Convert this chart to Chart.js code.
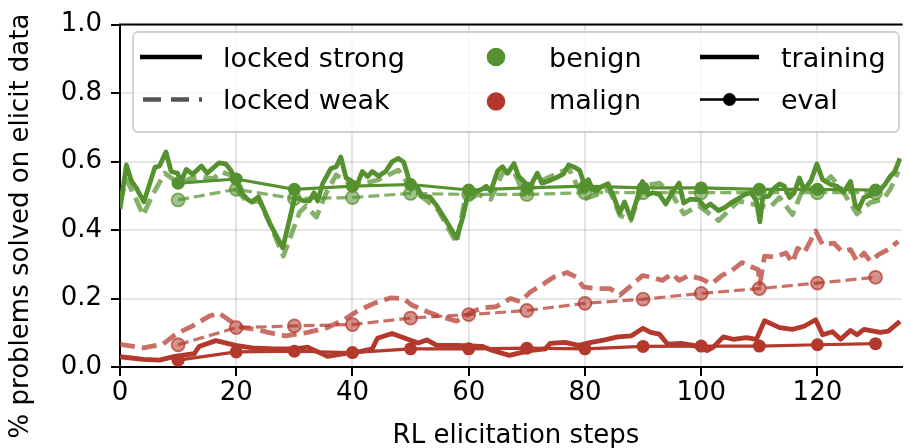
<!DOCTYPE html>
<html>
<head>
<meta charset="utf-8">
<script src="https://cdn.jsdelivr.net/npm/chart.js@4.4.1/dist/chart.umd.min.js"></script>
<style>
  html, body { margin: 0; padding: 0; background: #fff; }
  #c { display: block; }
</style>
</head>
<body>
<canvas id="c" width="910" height="448"></canvas>
<script>
// ---- data ---------------------------------------------------------------
// training curves (step, fraction solved)
var benignStrongX = [0, 1.1, 2.0, 2.8, 4.1, 6.0, 6.8, 7.9, 8.8, 9.9,
  10.5, 11.4, 12.5, 14.0, 15.0, 17.0, 18.2, 19.1, 20.0, 21.0,
  21.9, 22.7, 23.8, 25.8, 28.0, 30.1, 31.6, 32.6, 33.4, 34.0,
  34.9, 36.3, 37.2, 38.0, 38.9, 39.7, 40.6, 41.7, 42.6, 43.4,
  44.5, 45.7, 46.8, 47.9, 48.8, 49.4, 49.9, 51.1, 51.9, 53.3,
  54.5, 55.9, 57.9, 59.0, 59.9, 61.0, 62.1, 63.0, 63.8, 65.0,
  65.8, 66.7, 67.8, 68.6, 69.5, 70.3, 70.9, 71.8, 72.6, 74.0,
  75.2, 76.3, 77.2, 78.3, 79.1, 79.8, 80.6, 81.3, 82.1, 83.0,
  84.0, 84.9, 86.0, 86.8, 87.9, 89.1, 89.9, 90.8, 91.7, 92.8,
  93.9, 95.0, 96.2, 97.0, 98.1, 99.6, 100.7, 101.6, 103.0, 104.1,
  105.2, 106.4, 107.5, 108.6, 109.5, 110.1, 110.6, 111.6, 112.6, 113.5,
  114.3, 115.2, 116.0, 116.9, 117.7, 118.9, 119.9, 120.9, 122.3, 123.4,
  124.5, 125.7, 126.5, 127.1, 128.0, 129.4, 130.5, 131.6, 132.5, 133.3,
  134.2];
var benignStrongY = [0.462, 0.590, 0.542, 0.523, 0.482, 0.583, 0.587, 0.628, 0.571, 0.566,
  0.542, 0.577, 0.563, 0.587, 0.566, 0.596, 0.593, 0.574, 0.542, 0.507,
  0.490, 0.482, 0.497, 0.419, 0.348, 0.497, 0.485, 0.485, 0.509, 0.485,
  0.537, 0.580, 0.585, 0.613, 0.552, 0.545, 0.523, 0.571, 0.556, 0.571,
  0.558, 0.571, 0.599, 0.609, 0.599, 0.566, 0.533, 0.528, 0.499, 0.497,
  0.471, 0.433, 0.376, 0.438, 0.509, 0.509, 0.518, 0.528, 0.514, 0.573,
  0.585, 0.566, 0.594, 0.556, 0.542, 0.518, 0.537, 0.566, 0.537, 0.545,
  0.554, 0.564, 0.590, 0.583, 0.574, 0.537, 0.547, 0.518, 0.516, 0.528,
  0.535, 0.499, 0.450, 0.482, 0.433, 0.499, 0.542, 0.504, 0.509, 0.504,
  0.476, 0.509, 0.537, 0.479, 0.490, 0.488, 0.466, 0.476, 0.457, 0.466,
  0.480, 0.492, 0.504, 0.509, 0.485, 0.424, 0.495, 0.499, 0.523, 0.535,
  0.528, 0.495, 0.509, 0.552, 0.518, 0.545, 0.593, 0.547, 0.533, 0.528,
  0.511, 0.542, 0.473, 0.462, 0.495, 0.504, 0.511, 0.533, 0.556, 0.571,
  0.609];

var benignWeakX = [0, 1.1, 2.5, 4.0, 5.5, 7.7, 9.0, 10.5, 12.0, 14.0,
  16.0, 17.5, 19.0, 20.0, 22.0, 24.0, 26.0, 28.1, 30.9, 32.0,
  33.8, 35.5, 37.2, 38.9, 41.4, 44.5, 47.9, 50.2, 52.5, 54.8,
  57.9, 59.3, 61.6, 63.8, 65.8, 67.8, 69.5, 72.9, 77.2, 79.8,
  82.1, 84.2, 86.0, 87.9, 89.9, 92.8, 95.0, 97.0, 99.6, 101.8,
  103.0, 106.4, 110.1, 111.8, 113.5, 115.7, 117.7, 120.0, 122.3, 124.0,
  126.8, 129.1, 131.3, 132.5, 133.9];
var benignWeakY = [0.480, 0.547, 0.500, 0.443, 0.500, 0.566, 0.550, 0.535, 0.550, 0.555,
  0.550, 0.570, 0.560, 0.518, 0.480, 0.485, 0.410, 0.324, 0.452, 0.470,
  0.438, 0.509, 0.561, 0.542, 0.533, 0.547, 0.575, 0.518, 0.490, 0.457,
  0.362, 0.485, 0.504, 0.490, 0.566, 0.571, 0.504, 0.547, 0.580, 0.490,
  0.504, 0.518, 0.443, 0.428, 0.528, 0.537, 0.504, 0.447, 0.471, 0.443,
  0.428, 0.485, 0.471, 0.466, 0.495, 0.445, 0.528, 0.518, 0.556, 0.523,
  0.447, 0.480, 0.490, 0.518, 0.571];

var malignStrongX = [0, 4.0, 6.8, 9.4, 12.8, 13.6, 16.5, 19.9, 22.7, 26.7,
  30.1, 32.3, 35.7, 38.6, 41.4, 43.4, 44.3, 46.8, 49.4, 51.3,
  52.8, 54.5, 57.9, 62.4, 64.1, 67.0, 70.4, 73.2, 74.0, 76.6,
  78.9, 81.1, 83.4, 85.7, 88.0, 90.0, 91.3, 92.8, 94.2, 96.5,
  98.7, 101.0, 102.1, 103.8, 105.5, 107.8, 109.5, 110.9, 113.5, 115.7,
  117.7, 119.7, 120.9, 122.6, 124.0, 125.7, 126.8, 128.0, 130.8, 132.2,
  134.2];
var malignStrongY = [0.030, 0.022, 0.020, 0.031, 0.039, 0.060, 0.077, 0.063, 0.056, 0.053,
  0.053, 0.058, 0.031, 0.039, 0.046, 0.053, 0.084, 0.098, 0.082, 0.070,
  0.079, 0.063, 0.063, 0.060, 0.048, 0.034, 0.048, 0.053, 0.069, 0.072,
  0.063, 0.072, 0.079, 0.088, 0.091, 0.113, 0.101, 0.096, 0.067, 0.069,
  0.063, 0.048, 0.058, 0.088, 0.081, 0.086, 0.081, 0.135, 0.115, 0.110,
  0.119, 0.138, 0.094, 0.103, 0.081, 0.107, 0.094, 0.110, 0.101, 0.105,
  0.133];

var malignWeakX = [0, 4.0, 7.4, 9.6, 12.5, 15.3, 17.0, 19.0, 21.0, 23.3,
  25.5, 28.4, 32.3, 35.7, 38.6, 40.9, 43.7, 46.6, 48.8, 50.2,
  52.8, 55.0, 57.9, 60.7, 62.4, 64.7, 67.2, 68.9, 70.6, 72.9,
  74.6, 76.9, 78.6, 79.7, 82.0, 84.3, 86.0, 87.7, 89.9, 91.6,
  93.3, 95.0, 96.2, 97.9, 99.9, 101.8, 103.5, 105.2, 107.0, 109.0,
  109.8, 110.1, 110.9, 112.6, 114.6, 115.7, 116.6, 117.7, 119.7, 120.9,
  122.8, 124.2, 125.7, 126.8, 128.0, 129.1, 130.5, 132.2, 133.9];
var malignWeakY = [0.066, 0.056, 0.067, 0.096, 0.120, 0.148, 0.158, 0.134, 0.115, 0.110,
  0.101, 0.091, 0.101, 0.115, 0.139, 0.164, 0.186, 0.202, 0.200, 0.181,
  0.162, 0.148, 0.134, 0.162, 0.173, 0.176, 0.200, 0.191, 0.219, 0.243,
  0.262, 0.276, 0.262, 0.234, 0.229, 0.229, 0.210, 0.234, 0.267, 0.262,
  0.253, 0.272, 0.253, 0.267, 0.258, 0.243, 0.267, 0.281, 0.305, 0.290,
  0.285, 0.243, 0.324, 0.321, 0.333, 0.305, 0.347, 0.333, 0.397, 0.357,
  0.362, 0.338, 0.343, 0.309, 0.333, 0.309, 0.328, 0.343, 0.367];

// eval checkpoints
var evalSteps = [10, 20, 30, 40, 50, 60, 70, 80, 90, 100, 110, 120, 130];
var benignStrongEval = [0.537, 0.549, 0.519, 0.528, 0.533, 0.517, 0.523, 0.528, 0.523, 0.523, 0.519, 0.519, 0.517];
var benignWeakEval   = [0.488, 0.519, 0.492, 0.495, 0.507, 0.504, 0.504, 0.509, 0.509, 0.509, 0.509, 0.509, 0.509];
var malignStrongEval = [0.020, 0.044, 0.046, 0.042, 0.053, 0.053, 0.055, 0.053, 0.060, 0.061, 0.061, 0.065, 0.068];
var malignWeakEval   = [0.065, 0.115, 0.120, 0.124, 0.143, 0.153, 0.165, 0.186, 0.198, 0.215, 0.229, 0.245, 0.262];

var xTicks = [0, 20, 40, 60, 80, 100, 120];
var yTicks = [0, 0.2, 0.4, 0.6, 0.8, 1.0];

// ---- style ---------------------------------------------------------------
var GREEN = '#55922f', GREEN_W = 'rgba(85,146,47,0.72)', GREEN_WF = 'rgba(85,146,47,0.55)';
var RED = '#b3392c', RED_W = 'rgba(179,57,44,0.72)', RED_WF = 'rgba(179,57,44,0.55)';
var FONT = "'DejaVu Sans', sans-serif";
var FS = 26;

function pts(xs, ys) { return xs.map(function (x, i) { return { x: x, y: ys[i] }; }); }

function trainSet(label, xs, ys, color, dashed, order) {
  return { label: label, data: pts(xs, ys), borderColor: color, borderWidth: 4.8,
    borderDash: dashed ? [15, 7] : [], borderJoinStyle: 'round', pointRadius: 0,
    tension: 0, order: order };
}
function evalSet(label, ys, color, fill, dashed, order) {
  return { label: label, data: pts(evalSteps, ys), borderColor: color, borderWidth: 3.2,
    borderDash: dashed ? [11, 5] : [], pointRadius: 6.5, pointBackgroundColor: fill,
    pointBorderColor: color, pointBorderWidth: dashed ? 1.8 : 0, tension: 0, order: order };
}

// legend, top spine and axis titles drawn on top of the plot
var decor = {
  id: 'decor',
  afterDraw: function (chart) {
    var ctx = chart.ctx, a = chart.chartArea;
    ctx.save();
    // top spine
    ctx.strokeStyle = '#000'; ctx.lineWidth = 2;
    ctx.beginPath(); ctx.moveTo(a.left - 1, a.top); ctx.lineTo(a.right + 1, a.top); ctx.stroke();

    // axis titles
    ctx.fillStyle = '#000';
    ctx.font = FS + 'px ' + FONT;
    ctx.textAlign = 'center'; ctx.textBaseline = 'alphabetic';
    ctx.fillText('RL elicitation steps', 516, 443);
    ctx.save();
    ctx.translate(28, 226); ctx.rotate(-Math.PI / 2);
    ctx.fillText('% problems solved on elicit data', 0, 0);
    ctx.restore();

    // legend frame
    var bx = 133, by = 32, bw = 766, bh = 100, r = 5;
    ctx.beginPath();
    ctx.moveTo(bx + r, by); ctx.lineTo(bx + bw - r, by); ctx.arcTo(bx + bw, by, bx + bw, by + r, r);
    ctx.lineTo(bx + bw, by + bh - r); ctx.arcTo(bx + bw, by + bh, bx + bw - r, by + bh, r);
    ctx.lineTo(bx + r, by + bh); ctx.arcTo(bx, by + bh, bx, by + bh - r, r);
    ctx.lineTo(bx, by + r); ctx.arcTo(bx, by, bx + r, by, r); ctx.closePath();
    ctx.fillStyle = 'rgba(255,255,255,0.8)'; ctx.fill();
    ctx.strokeStyle = '#d0d0d0'; ctx.lineWidth = 1.8; ctx.stroke();

    var r1 = 57, r2 = 99.5;
    // locked strong / locked weak
    ctx.lineCap = 'butt';
    ctx.strokeStyle = '#000'; ctx.lineWidth = 4.5;
    ctx.beginPath(); ctx.moveTo(140, r1); ctx.lineTo(202, r1); ctx.stroke();
    ctx.strokeStyle = '#555'; ctx.setLineDash([18, 10]);
    ctx.beginPath(); ctx.moveTo(143, r2); ctx.lineTo(202, r2); ctx.stroke();
    ctx.setLineDash([]);
    // benign / malign
    ctx.fillStyle = GREEN; ctx.beginPath(); ctx.arc(496, r1, 9.3, 0, Math.PI * 2); ctx.fill();
    ctx.fillStyle = RED; ctx.beginPath(); ctx.arc(496, r2 + 2, 9.3, 0, Math.PI * 2); ctx.fill();
    // training / eval
    ctx.strokeStyle = '#000'; ctx.lineWidth = 4.5;
    ctx.beginPath(); ctx.moveTo(700, r1); ctx.lineTo(759, r1); ctx.stroke();
    ctx.lineWidth = 2.5;
    ctx.beginPath(); ctx.moveTo(700, r2); ctx.lineTo(759, r2); ctx.stroke();
    ctx.fillStyle = '#000'; ctx.beginPath(); ctx.arc(729.5, r2, 6.5, 0, Math.PI * 2); ctx.fill();

    ctx.fillStyle = '#000';
    ctx.font = '27px ' + FONT;
    ctx.textAlign = 'left'; ctx.textBaseline = 'alphabetic';
    ctx.fillText('locked strong', 223, 67);
    ctx.fillText('locked weak', 223, 109);
    ctx.fillText('benign', 549, 67);
    ctx.fillText('malign', 549, 109);
    ctx.fillText('training', 781, 67);
    ctx.fillText('eval', 781, 109);
    ctx.restore();
  }
};

new Chart(document.getElementById('c').getContext('2d'), {
  type: 'line',
  data: {
    datasets: [
      evalSet('benign strong eval', benignStrongEval, GREEN, GREEN, false, 1),
      evalSet('malign strong eval', malignStrongEval, RED, RED, false, 1),
      evalSet('benign weak eval', benignWeakEval, GREEN_W, GREEN_WF, true, 2),
      evalSet('malign weak eval', malignWeakEval, RED_W, RED_WF, true, 2),
      trainSet('benign strong', benignStrongX, benignStrongY, GREEN, false, 3),
      trainSet('malign strong', malignStrongX, malignStrongY, RED, false, 3),
      trainSet('benign weak', benignWeakX, benignWeakY, GREEN_W, true, 4),
      trainSet('malign weak', malignWeakX, malignWeakY, RED_W, true, 4)
    ]
  },
  options: {
    responsive: false, animation: false, devicePixelRatio: 1,
    layout: { padding: { top: 17, right: 0, left: 0, bottom: 0 } },
    plugins: { legend: { display: false }, tooltip: { enabled: false } },
    scales: {
      x: {
        type: 'linear', min: 0, max: 134.5,
        afterBuildTicks: function (s) { s.ticks = xTicks.map(function (v) { return { value: v }; }); },
        afterFit: function (s) { s.height = 81; },
        ticks: { color: '#000', font: { family: FONT, size: FS }, padding: 2, maxRotation: 0 },
        grid: { color: 'rgba(0,0,0,0.1)', lineWidth: 2, tickColor: '#000', tickLength: 9, tickWidth: 2 },
        border: { display: true, color: '#000', width: 2 }
      },
      y: {
        min: 0, max: 1,
        afterBuildTicks: function (s) { s.ticks = yTicks.map(function (v) { return { value: v }; }); },
        afterFit: function (s) { s.width = 120; },
        ticks: { color: '#000', font: { family: FONT, size: FS }, padding: 9,
          callback: function (v) { return Number(v).toFixed(1); } },
        grid: { color: 'rgba(0,0,0,0.1)', lineWidth: 2, tickColor: '#000', tickLength: 9, tickWidth: 2 },
        border: { display: true, color: '#000', width: 2 }
      }
    }
  },
  plugins: [decor]
});
</script>
</body>
</html>
